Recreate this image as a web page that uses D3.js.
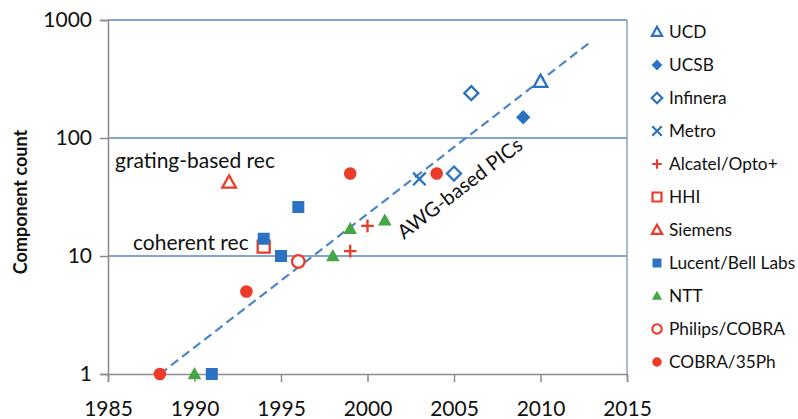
<!DOCTYPE html>
<html>
<head>
<meta charset="utf-8">
<script src="https://cdn.jsdelivr.net/npm/d3@7"></script>
<style>
  html, body { margin: 0; padding: 0; background: #fff; }
  svg { display: block; font-family: Lato, "Open Sans", sans-serif; }
</style>
</head>
<body>
<svg id="chart" width="798" height="419"></svg>
<script>
// Component counts per photonic-integrated-circuit group: [year, count]
const UCD      = [[2010, 300]];
const UCSB     = [[2009, 150]];
const INFINERA = [[2005, 50], [2006, 240]];
const METRO    = [[2003, 45]];
const ALCATEL  = [[1999, 11], [2000, 18]];
const HHI      = [[1994, 12]];
const SIEMENS  = [[1992, 42]];
const LUCENT   = [[1991, 1], [1994, 14], [1995, 10], [1996, 26]];
const NTT      = [[1990, 1], [1998, 10], [1999, 17], [2001, 20]];
const PHILIPS  = [[1996, 9]];
const COBRA    = [[1988, 1], [1993, 5], [1999, 50], [2004, 50]];

// Exponential trend of AWG-based PICs (start and end of fitted line)
const TREND = [[1988, 1], [2013, 670]];

const X_TICKS = [1985, 1990, 1995, 2000, 2005, 2010, 2015];
const Y_TICKS = [1, 10, 100, 1000];

const BLUE = "#2b73c2", RED = "#ec3b28", GREEN = "#45a744";

const SERIES = [
  { name: "UCD",              data: UCD,      shape: "triangle", color: BLUE,  open: true  },
  { name: "UCSB",             data: UCSB,     shape: "diamond",  color: BLUE,  open: false },
  { name: "Infinera",         data: INFINERA, shape: "diamond",  color: BLUE,  open: true  },
  { name: "Metro",            data: METRO,    shape: "times",    color: BLUE,  open: false },
  { name: "Alcatel/Opto+",    data: ALCATEL,  shape: "plus",     color: RED,   open: false },
  { name: "HHI",              data: HHI,      shape: "square",   color: RED,   open: true  },
  { name: "Siemens",          data: SIEMENS,  shape: "triangle", color: RED,   open: true  },
  { name: "Lucent/Bell Labs", data: LUCENT,   shape: "square",   color: BLUE,  open: false },
  { name: "NTT",              data: NTT,      shape: "triangle", color: GREEN, open: false },
  { name: "Philips/COBRA",    data: PHILIPS,  shape: "circle",   color: RED,   open: true  },
  { name: "COBRA/35Ph",       data: COBRA,    shape: "circle",   color: RED,   open: false }
];

const svg = d3.select("#chart");
const plot = { left: 108, right: 627, top: 20, bottom: 374 };

const x = d3.scaleLinear().domain([1985, 2015]).range([plot.left, plot.right]);
const y = d3.scaleLog().domain([1, 1000]).range([plot.bottom, plot.top]);

// Marker outline centred on (0,0); r is the half-extent of the marker
function markerPath(shape, r) {
  const p = d3.path();
  if (shape === "circle") {
    p.arc(0, 0, r, 0, 2 * Math.PI);
  } else if (shape === "square") {
    p.rect(-r, -r, 2 * r, 2 * r);
  } else if (shape === "diamond") {
    p.moveTo(0, -r); p.lineTo(r, 0); p.lineTo(0, r); p.lineTo(-r, 0); p.closePath();
  } else if (shape === "triangle") {
    const h = r * 1.8;
    p.moveTo(0, -h * 0.58); p.lineTo(r, h * 0.42); p.lineTo(-r, h * 0.42); p.closePath();
  } else if (shape === "times") {
    p.moveTo(-r, -r); p.lineTo(r, r); p.moveTo(r, -r); p.lineTo(-r, r);
  } else if (shape === "plus") {
    p.moveTo(-r, 0); p.lineTo(r, 0); p.moveTo(0, -r); p.lineTo(0, r);
  }
  return p.toString();
}

function styleMarker(sel, s, sw) {
  const lineOnly = s.shape === "times" || s.shape === "plus";
  sel.attr("fill", lineOnly ? "none" : (s.open ? "#fff" : s.color))
     .attr("stroke", (s.open || lineOnly) ? s.color : "none")
     .attr("stroke-width", sw);
}

function markerSize(s) {
  if (s.shape === "circle") return 6.3;
  if (s.shape === "square") return 6;
  if (s.shape === "diamond") return s.open ? 7 : 7.2;
  if (s.shape === "triangle") return 6.8;
  return 6.3;
}

// Horizontal gridlines at each decade
svg.append("g")
  .selectAll("line")
  .data(Y_TICKS.slice(1))
  .join("line")
  .attr("x1", plot.left).attr("x2", plot.right)
  .attr("y1", d => y(d)).attr("y2", d => y(d))
  .attr("stroke", "#5a86c0").attr("stroke-width", 1.3);

// Right border of the plot area
svg.append("line")
  .attr("x1", plot.right).attr("x2", plot.right)
  .attr("y1", plot.top).attr("y2", plot.bottom)
  .attr("stroke", "#8094b4").attr("stroke-width", 1.3);

// Y axis
const yAxis = d3.axisLeft(y).tickValues(Y_TICKS).tickFormat(d3.format("d")).tickSize(8).tickPadding(8);
const gy = svg.append("g").attr("transform", `translate(${plot.left},0)`).call(yAxis);
gy.select(".domain").attr("stroke", "#8a8a8a").attr("stroke-width", 1.5);
gy.selectAll(".tick line").attr("stroke", "#8a8a8a").attr("stroke-width", 1.5);
gy.selectAll(".tick text").attr("font-size", 21).attr("fill", "#111").attr("font-family", "Lato, sans-serif");

// X axis
const xAxis = d3.axisBottom(x).tickValues(X_TICKS).tickFormat(d3.format("d")).tickSize(8).tickPadding(19);
const gx = svg.append("g").attr("transform", `translate(0,${plot.bottom})`).call(xAxis);
gx.select(".domain").attr("stroke", "#8a8a8a").attr("stroke-width", 1.5);
gx.selectAll(".tick line").attr("stroke", "#8a8a8a").attr("stroke-width", 1.5);
gx.selectAll(".tick text").attr("font-size", 21).attr("fill", "#111").attr("font-family", "Lato, sans-serif");

// Y axis title
svg.append("text")
  .attr("transform", `translate(27,${(plot.top + plot.bottom) / 2 + 5}) rotate(-90)`)
  .attr("text-anchor", "middle")
  .attr("font-size", 18).attr("font-weight", "bold").attr("fill", "#111")
  .text("Component count");

// AWG trend line
svg.append("path")
  .datum(TREND)
  .attr("d", d3.line().x(d => x(d[0])).y(d => y(d[1])))
  .attr("fill", "none")
  .attr("stroke", "#4d86c6").attr("stroke-width", 2.2)
  .attr("stroke-dasharray", "9,5");

// Data markers
SERIES.forEach(s => {
  svg.append("g")
    .selectAll("path")
    .data(s.data)
    .join("path")
    .attr("transform", d => `translate(${x(d[0])},${y(d[1])})`)
    .attr("d", markerPath(s.shape, markerSize(s)))
    .call(sel => styleMarker(sel, s, 2.3));
});

// Annotations
svg.append("text").attr("x", 115).attr("y", 168)
  .attr("font-size", 21).attr("fill", "#111").text("grating-based rec");
svg.append("text").attr("x", 133).attr("y", 250)
  .attr("font-size", 21).attr("fill", "#111").text("coherent rec");
svg.append("text")
  .attr("transform", `translate(404,240) rotate(-37.5)`)
  .attr("font-size", 20).attr("fill", "#111").text("AWG-based PICs");

// Legend
const legend = svg.append("g").attr("transform", "translate(657,32)");
const item = legend.selectAll("g")
  .data(SERIES)
  .join("g")
  .attr("transform", (d, i) => `translate(0,${i * 33})`);
item.append("path")
  .attr("d", s => markerPath(s.shape, markerSize(s) * 0.75))
  .each(function (s) { styleMarker(d3.select(this), s, 2.2); });
item.append("text")
  .attr("x", 12).attr("dy", "0.35em")
  .attr("font-size", 17.3).attr("fill", "#111")
  .text(s => s.name);
</script>
</body>
</html>
